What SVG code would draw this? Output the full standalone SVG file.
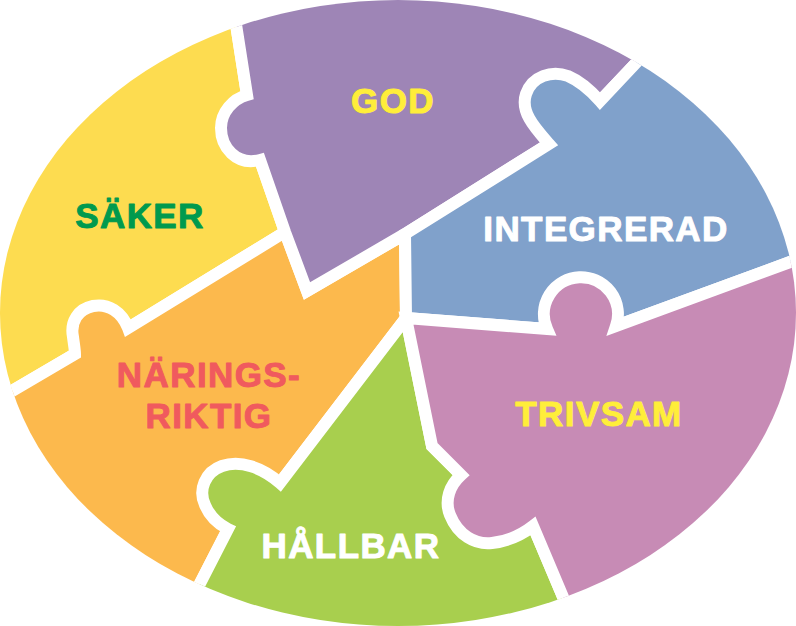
<svg xmlns="http://www.w3.org/2000/svg" width="796" height="626" viewBox="0 0 796 626">
<defs>
<clipPath id="oval"><ellipse cx="398" cy="313" rx="398" ry="313"/></clipPath>
<style>
.pc{stroke:#fff;stroke-width:12;stroke-linejoin:miter}
.lb{font-family:"Liberation Sans",Arial,sans-serif;font-weight:700;font-size:35px;text-anchor:middle;letter-spacing:1.4px;stroke-width:1;stroke-linejoin:round}
</style>
</defs>
<rect width="796" height="626" fill="#fff"/>
<g clip-path="url(#oval)">
<g id="saker">
<path class="pc" fill="#FDDC50" d="M232,-50 L232,-5 L236.5,27.5 L247,95 L260,160 L285,232 L128,328 L75,354 L12,391 L-30,416 L-50,416 L-50,-50 Z"/>
<text class="lb" x="140" y="228" fill="#009A4E" stroke="#009A4E">SÄKER</text>
</g>
<g id="naringsriktig">
<path class="pc" fill="#FCB94D" d="M285,232 L307,291 L405,234 L406,318 L280,483 L228,529 L200,583.5 L170,642 L-50,642 L-50,430 L-30,416 L12,391 L75,354 C75,350 74,345 73,337 C70,322 78,309 93,306 C108,303 122,312 128,328 Z"/>
<text class="lb" x="209" y="387" fill="#F05A5E" stroke="#F05A5E">NÄRINGS-</text>
<text class="lb" x="209" y="428" fill="#F05A5E" stroke="#F05A5E">RIKTIG</text>
</g>
<g id="hallbar">
<path class="pc" fill="#A8CF4E" d="M406,318 L432,446 L461,475 L533,526 L563,597 L585,650 L170,642 L200,583.5 L228,529 C220,525 210,517 205,505 C198,490 205,472 222,466 C240,460 262,467 280,483 Z"/>
<text class="lb" x="351" y="558" fill="#FFFFFF" stroke="#FFFFFF">HÅLLBAR</text>
</g>
<g id="god">
<path class="pc" fill="#9E85B6" d="M232,-50 L232,-5 L236.5,27.5 L247,95 C233,99 221,112 221,128 C221,147 236,166 260,160 L285,232 L307,291 L405,234 L550,143 L600,101 L635,64 L665,32 L700,-50 Z"/>
<text class="lb" x="393" y="113" fill="#FFEE3A" stroke="#FFEE3A">GOD</text>
</g>
<g id="integrerad">
<path class="pc" fill="#80A1CB" d="M405,234 L549,144 C535,128 520,112 526,94 C532,76 552,70 568,76 C582,82 592,92 600,101 L635,64 L665,32 L900,-50 L900,247 L830,247 L790,262 L616,326 L547,329 L406,318 Z"/>
<text class="lb" x="606" y="241" fill="#FFFFFF" stroke="#FFFFFF">INTEGRERAD</text>
</g>
<g id="trivsam">
<path class="pc" fill="#C78BB5" d="M406,318 L547,329 A37,37 0 1 1 616,326 L790,262 L830,247 L900,247 L900,700 L585,650 L563,597 L533,526 C524,533 510,541 492,543 C475,545 458,535 450,515 C444,500 450,485 461,475 L432,446 Z"/>
<text class="lb" x="599" y="426" fill="#FFEE3A" stroke="#FFEE3A">TRIVSAM</text>
</g>
</g>
<g id="connectors"/>
</svg>
